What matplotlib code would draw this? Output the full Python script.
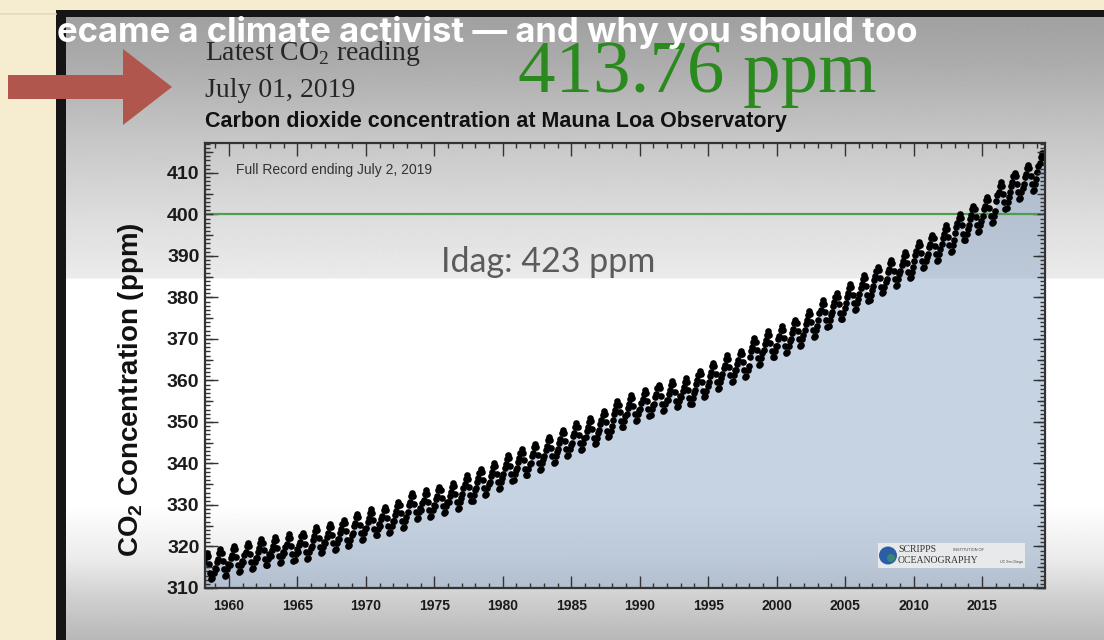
import numpy as np
import matplotlib.pyplot as plt
from matplotlib.patches import Polygon, Rectangle, Circle
from matplotlib.ticker import MultipleLocator, NullFormatter

plt.rcParams['mathtext.fontset'] = 'custom'
plt.rcParams['mathtext.rm'] = 'Liberation Serif'
plt.rcParams['mathtext.bf'] = 'Liberation Sans:bold'

# Mauna Loa CO2, annual means (ppm); 1958 starts in March, 2019 ends in June
years = list(range(1958, 2020))
annual_mean = [
    315.1, 315.98, 316.91, 317.64, 318.45, 318.99, 319.62, 320.04, 321.37, 322.18,
    323.05, 324.62, 325.68, 326.32, 327.46, 329.68, 330.19, 331.12, 332.03, 333.84,
    335.41, 336.84, 338.76, 340.12, 341.48, 343.15, 344.85, 346.35, 347.61, 349.31,
    351.69, 353.20, 354.45, 355.70, 356.54, 357.21, 358.96, 360.97, 362.74, 363.88,
    366.84, 368.54, 369.71, 371.32, 373.45, 375.98, 377.70, 379.98, 382.09, 384.02,
    385.83, 387.64, 390.10, 391.85, 394.06, 396.74, 398.81, 401.01, 404.41, 406.76,
    408.72, 411.40,
]
# monthly departure from the annual mean, Jan..Dec (ppm)
seasonal = [-1.3, 0.2, 1.1, 2.4, 3.3, 2.5, 0.6, -1.4, -3.0, -2.8, -1.4, -0.3]
first_month = 3
last_month = 6

t, co2 = [], []
for i, yr in enumerate(years):
    m0 = first_month if yr == years[0] else 1
    m1 = last_month if yr == years[-1] else 12
    for m in range(m0, m1 + 1):
        t.append(yr + (m - 0.5) / 12)
        co2.append(annual_mean[i] + seasonal[m - 1])
t = np.array(t)
co2 = np.array(co2)

W, H = 1104, 640
fig = plt.figure(figsize=(W / 100, H / 100), dpi=100)
fig.patch.set_facecolor('#f6edd1')

# background in pixel coordinates: page, video frame, lighting
bg = fig.add_axes([0, 0, 1, 1], zorder=0)
bg.axis('off')
bg.plot([0, 56], [14, 14], color='#e3d9bc', lw=1.2)
bg.add_patch(Rectangle((56, 10), W - 56, H - 10, color='#151515', lw=0, zorder=1))
stop_y = [17, 60, 140, 220, 277, 279, 505, 560, 600, 640]
stop_v = [0.63, 0.67, 0.78, 0.87, 0.92, 1.0, 1.0, 0.92, 0.81, 0.72]
rows = np.interp(np.arange(17, H), stop_y, stop_v)
bg.imshow(rows[:, None], cmap='gray', vmin=0, vmax=1, aspect='auto',
          extent=(66, W, H, 17), interpolation='bilinear', zorder=2)
bg.set_xlim(0, W)
bg.set_ylim(H, 0)

bg.add_patch(Polygon([(8, 75), (123, 75), (123, 49), (172, 87), (123, 125),
                      (123, 99), (8, 99)], closed=True, color='#b0564c', lw=0, zorder=3))

bg.text(205, 60, r'Latest CO$_\mathrm{2}$ reading', family='Liberation Serif',
        fontsize=20, color='#262626', va='baseline', zorder=3)
bg.text(205, 97, 'July 01, 2019', family='Liberation Serif', fontsize=20,
        color='#262626', va='baseline', zorder=3)
bg.text(518, 92, '413.76 ppm', family='Liberation Serif', fontsize=54,
        color='#2a8a1e', va='baseline', zorder=3)
bg.text(205, 127, 'Carbon dioxide concentration at Mauna Loa Observatory',
        family='Liberation Sans', fontweight='bold', fontsize=15.5,
        color='#111111', va='baseline', zorder=3)
bg.text(57, 42, 'ecame a climate activist \u2014 and why you should too',
        family='Inter', fontweight='bold', fontsize=25, color='white',
        va='baseline', zorder=5)

# the Keeling curve
ax = fig.add_axes([205 / W, 52 / H, 840 / W, 445 / H], zorder=2)
ax.patch.set_visible(False)
ax.fill_between(t, co2, 310, color='#8fa8c8', alpha=0.5, lw=0)
ax.axhline(400, color='#4f9e4f', lw=1.6)
ax.plot(t, co2, 'o', color='black', ms=4.8, mew=0)
ax.set_xlim(1958.25, 2019.6)
ax.set_ylim(310, 417.2)

ax.xaxis.set_major_locator(MultipleLocator(5))
ax.xaxis.set_minor_locator(MultipleLocator(1))
ax.yaxis.set_major_locator(MultipleLocator(10))
ax.yaxis.set_minor_locator(MultipleLocator(1))
ax.tick_params(which='both', direction='in', top=True, right=True, color='#333333', width=1)
ax.tick_params(which='major', length=9)
ax.tick_params(which='minor', length=3.5)
ax.tick_params(axis='x', which='major', pad=8, labelsize=10)
ax.tick_params(axis='y', which='major', pad=4, labelsize=14)
ax.set_xticks([1960, 1965, 1970, 1975, 1980, 1985, 1990, 1995, 2000, 2005, 2010, 2015])
ax.set_yticks([310, 320, 330, 340, 350, 360, 370, 380, 390, 400, 410])
for lab in ax.get_xticklabels() + ax.get_yticklabels():
    lab.set_fontweight('bold')
    lab.set_family('Liberation Sans')
    lab.set_color('#1a1a1a')
for s in ax.spines.values():
    s.set_color('#333333')
    s.set_linewidth(1.6)

ax.set_ylabel(r'$\mathbf{CO_2}$ Concentration (ppm)', family='Liberation Sans',
              fontweight='bold', fontsize=20, color='#111111')
ax.yaxis.set_label_coords(-0.07, 0.445)

ax.text(0.037, 0.94, 'Full Record ending July 2, 2019', transform=ax.transAxes,
        family='Liberation Sans', fontsize=10, color='#333333', va='center')

# medium ticks every 5 ppm on both vertical spines
ax5 = fig.add_axes(ax.get_position(), zorder=2)
ax5.patch.set_visible(False)
for s in ax5.spines.values():
    s.set_visible(False)
ax5.set_xticks([])
ax5.set_ylim(ax.get_ylim())
ax5.yaxis.set_major_locator(MultipleLocator(5))
ax5.yaxis.set_major_formatter(NullFormatter())
ax5.tick_params(axis='y', which='major', direction='in', left=True, right=True,
                length=6, color='#333333', width=1, labelleft=False)

# overlays drawn above the plot
top = fig.add_axes([0, 0, 1, 1], zorder=5)
top.patch.set_visible(False)
top.set_xlim(0, W)
top.set_ylim(H, 0)
top.axis('off')
top.text(441, 272, 'Idag: 423 ppm', family='Lato', fontsize=24.5, color='#5b5b5b',
         va='baseline')

top.add_patch(Rectangle((878, 543), 147, 25, color='#e8e9ea', lw=0))
top.add_patch(Circle((888, 555.5), 9, color='#2c5ea6', lw=0))
top.add_patch(Circle((891, 558), 4, color='#3d8f6a', lw=0, alpha=0.8))
top.text(898, 552, 'SCRIPPS', family='Liberation Serif', fontsize=7,
         color='#333333', va='baseline')
top.text(898, 563, 'OCEANOGRAPHY', family='Liberation Serif', fontsize=7,
         color='#333333', va='baseline')
top.text(953, 551, 'INSTITUTION OF', family='Liberation Sans', fontsize=2.8,
         color='#444444', va='baseline')
top.text(1000, 563, 'UC San Diego', family='Liberation Sans', fontsize=2.6,
         color='#444444', va='baseline')

fig.savefig('out.png', dpi=100, facecolor=fig.get_facecolor())
